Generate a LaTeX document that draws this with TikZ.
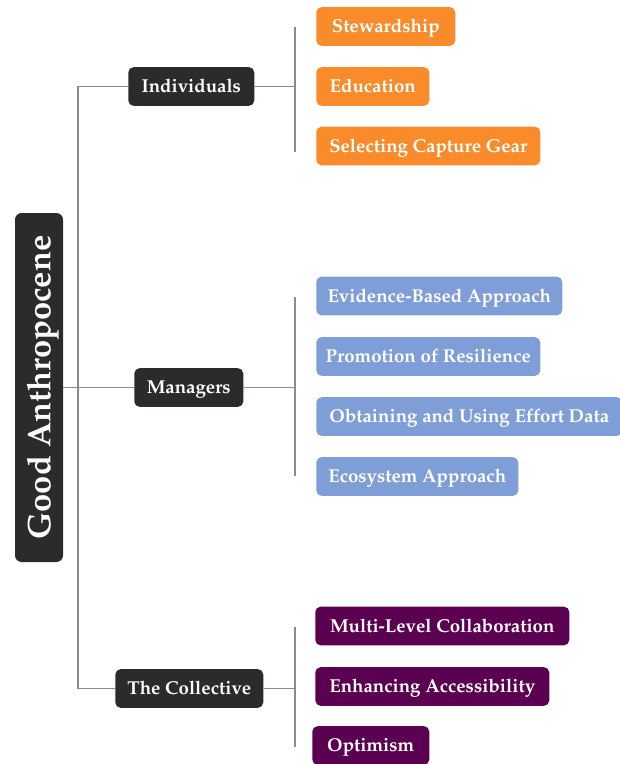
\documentclass[tikz,border=0pt]{standalone}
\usepackage[T1]{fontenc}
\usepackage{mathpazo}
\begin{document}
\definecolor{boxdark}{HTML}{2D2A2B}
\definecolor{leaforange}{HTML}{F98B2A}
\definecolor{leafblue}{HTML}{7F9ED8}
\definecolor{leafpurple}{HTML}{5B0051}
\definecolor{wire}{HTML}{8A8A8A}
\begin{tikzpicture}[x=0.75pt,y=-0.75pt,
  box/.style={rounded corners=4pt,inner sep=0pt,text=white,
    font=\fontsize{14}{16}\selectfont\bfseries,
    text height=9.6pt,text depth=0pt,minimum height=29pt,anchor=west},
  hub/.style={box,fill=boxdark},
  orangeleaf/.style={box,fill=leaforange},
  blueleaf/.style={box,fill=leafblue},
  purpleleaf/.style={box,fill=leafpurple},
  link/.style={draw=wire,line width=0.9pt}]
\useasboundingbox (0,0) rectangle (620,764);

% root
\node[rounded corners=5pt,fill=boxdark,text=white,rotate=90,
  inner sep=0pt,minimum width=349*0.75pt,minimum height=48*0.75pt,
  font=\fontsize{24.5}{28}\selectfont\bfseries,text height=17pt,text depth=0pt]
  (root) at (39,387.5) {Good Anthropocene};

% second level
\node[hub,minimum width=126*0.75pt] (ind) at (128,86.5) {Individuals};
\node[hub,minimum width=109*0.75pt] (man) at (134,387.5) {Managers};
\node[hub,minimum width=148*0.75pt] (col) at (115,688.5) {The Collective};

% leaves: individuals
\node[orangeleaf,minimum width=139*0.75pt] (l1) at (316,26.5) {Stewardship};
\node[orangeleaf,minimum width=113*0.75pt] (l2) at (316,86.5) {Education};
\node[orangeleaf,minimum width=224*0.75pt] (l3) at (316,146) {Selecting Capture Gear};

% leaves: managers
\node[blueleaf,minimum width=246*0.75pt] (m1) at (316,296) {Evidence-Based Approach};
\node[blueleaf,minimum width=224*0.75pt] (m2) at (316,356.5) {Promotion of Resilience};
\node[blueleaf,minimum width=306*0.75pt] (m3) at (316,416.5) {Obtaining and Using Effort Data};
\node[blueleaf,minimum width=202*0.75pt] (m4) at (316,476.5) {Ecosystem Approach};

% leaves: collective
\node[purpleleaf,minimum width=254*0.75pt] (c1) at (315,626) {Multi-Level Collaboration};
\node[purpleleaf,minimum width=234*0.75pt] (c2) at (315,686.5) {Enhancing Accessibility};
\node[purpleleaf,minimum width=117*0.75pt] (c3) at (312,745.5) {Optimism};

% trunk
\coordinate (trunk) at (78,387.5);
\draw[link] (root.south) -- (man.west);
\draw[link] (ind.west) -| (trunk) |- (col.west);

% brackets
\coordinate (bi) at (295,86.5);
\coordinate (bitop) at (295,27);
\coordinate (bibot) at (295,152);
\draw[link] (ind.east) -- (bi);
\draw[link] (bitop) -- (bibot);

\coordinate (bm) at (295,387.5);
\coordinate (bmtop) at (295,297);
\coordinate (bmbot) at (295,476);
\draw[link] (man.east) -- (bm);
\draw[link] (bmtop) -- (bmbot);

\coordinate (bc) at (295,688.5);
\coordinate (bctop) at (295,627);
\coordinate (bcbot) at (295,747);
\draw[link] (col.east) -- (bc);
\draw[link] (bctop) -- (bcbot);
\end{tikzpicture}
\end{document}
